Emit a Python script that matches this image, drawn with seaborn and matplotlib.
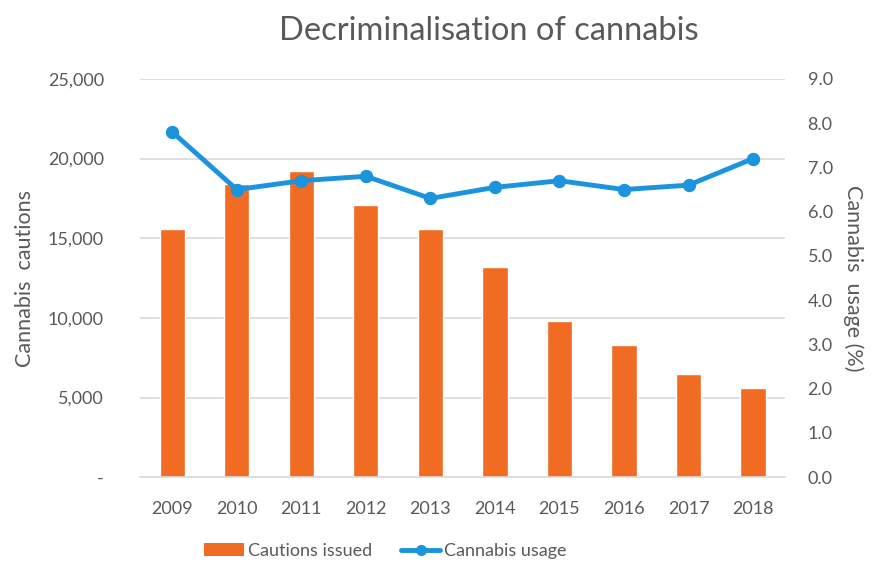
import numpy as np
import matplotlib
matplotlib.use("Agg")
import matplotlib.pyplot as plt
import seaborn as sns
import pandas as pd
from matplotlib.ticker import FuncFormatter
from matplotlib.lines import Line2D
from matplotlib.patches import Patch

years = ["2009", "2010", "2011", "2012", "2013", "2014", "2015", "2016", "2017", "2018"]
cautions = [15600, 18400, 19200, 17100, 15600, 13200, 9800, 8300, 6500, 5600]
usage = [7.8, 6.5, 6.7, 6.8, 6.3, 6.55, 6.7, 6.5, 6.6, 7.2]

ORANGE = "#F26B22"
BLUE = "#1B93DD"
GREY = "#595959"

sns.set_style("white")
plt.rcParams['font.family'] = ['Lato', 'DejaVu Sans']

df = pd.DataFrame({"year": years, "cautions": cautions, "usage": usage})

fig = plt.figure(figsize=(8.72, 5.64), dpi=100)
ax = fig.add_axes([0.1606, 0.154, 0.740, 0.706])

sns.barplot(data=df, x="year", y="cautions", color=ORANGE, saturation=1,
            width=0.39, ax=ax, zorder=2)
ax.set_ylim(0, 25000)
ax.set_yticks(np.arange(0, 25001, 5000))
ax.yaxis.set_major_formatter(FuncFormatter(lambda v, p: "-" if v == 0 else f"{int(v):,}"))
ax.grid(axis="y", color="#D9D9D9", linewidth=1.2, zorder=0)
ax.set_axisbelow(True)
for s in ["top", "right", "left"]:
    ax.spines[s].set_visible(False)
ax.spines["bottom"].set_color("#D9D9D9")
ax.spines["bottom"].set_linewidth(1.2)
ax.tick_params(axis="both", length=0, labelsize=13, labelcolor=GREY)
ax.tick_params(axis="y", pad=26)
ax.tick_params(axis="x", pad=17)
ax.set_xlabel("")
ax.set_ylabel("Cannabis  cautions", fontsize=15.5, color=GREY, labelpad=9)

ax2 = ax.twinx()
sns.pointplot(data=df, x="year", y="usage", color=BLUE, markers="o",
              linestyles="-", ax=ax2, markersize=7, linewidth=3.5)
ax2.set_ylim(0, 9)
ax2.set_yticks(np.arange(0, 9.01, 1))
ax2.yaxis.set_major_formatter(FuncFormatter(lambda v, p: f"{v:.1f}"))
for s in ["top", "right", "left", "bottom"]:
    ax2.spines[s].set_visible(False)
ax2.tick_params(axis="y", length=0, labelsize=13, labelcolor=GREY, pad=16)
ax2.set_ylabel("Cannabis  usage (%)", fontsize=15.5, color=GREY, rotation=270, labelpad=22)
ax2.set_xlabel("")

fig.text(0.56, 0.945, "Decriminalisation of cannabis", fontsize=23.5, color=GREY,
         ha="center", va="center")

handles = [Patch(facecolor=ORANGE, edgecolor="none"),
           Line2D([0], [0], color=BLUE, linewidth=3.5, marker="o", markersize=7)]
fig.legend(handles, ["Cautions issued", "Cannabis usage"], loc="center",
           bbox_to_anchor=(0.442, 0.023), ncol=2, frameon=False, fontsize=13,
           labelcolor=GREY, handlelength=2.2, handletextpad=0.2, columnspacing=1.6)

fig.savefig("out.png", dpi=100)
